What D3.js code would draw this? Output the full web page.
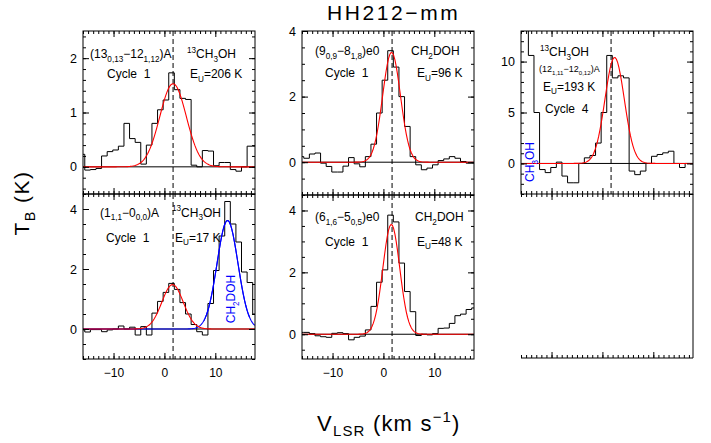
<!DOCTYPE html>
<html><head><meta charset="utf-8">
<script src="https://cdn.jsdelivr.net/npm/d3@7"></script>
<style>
body{margin:0;background:#fff}
svg{display:block}
text{font-family:"Liberation Sans",Arial,Helvetica,sans-serif;white-space:pre}
</style>
</head><body>
<svg id="c" width="711" height="443"></svg>
<script>
// ---------------- DATA ----------------
const velocity = [-16.2,-15.1,-14.0,-12.9,-11.8,-10.7,-9.6,-8.5,-7.4,-6.3,-5.2,-4.1,-3.0,-1.9,-0.8,0.3,1.4,2.5,3.6,4.7,5.8,6.9,8.0,9.1,10.2,11.3,12.4,13.5,14.6,15.7,16.8,17.9];
const channelWidth = 1.1;
const vsys = 1.7;
const tb1 = [0.23,-0.06,-0.05,-0.03,0.2,0.28,0.31,0.38,0.8,0.52,0.45,0.05,0.4,0.8,1.05,1.23,1.73,1.42,1.26,1.24,0.03,0.0,0.3,0.29,0.02,0.08,0.08,-0.05,-0.08,0.0,0.38,0.38];
const tb2 = [-0.03,-0.1,-0.02,-0.02,-0.09,-0.03,0.0,0.1,0.0,0.06,-0.2,0.08,-0.2,0.53,0.92,1.22,1.52,1.32,0.88,0.5,0.15,-0.09,-0.2,0.85,1.95,3.1,4.25,3.5,2.9,1.9,1.55,0.5];
const tb3 = [0.17,0.12,0.25,0.28,-0.03,-0.13,-0.3,-0.3,-0.12,0.14,-0.05,-0.14,0.17,0.55,1.5,2.5,3.4,2.9,2.0,1.09,0.17,-0.08,-0.23,-0.18,-0.08,0.05,0.1,0.17,0.12,0.02,-0.03,-0.03];
const tb4 = [0.06,0.06,0.02,-0.05,-0.08,-0.1,0.03,0.05,0.02,-0.18,-0.1,-0.06,0.14,0.9,1.68,2.08,3.85,3.63,2.3,1.38,0.73,-0.04,0.0,-0.02,0.02,0.19,0.2,0.35,0.6,0.65,0.8,0.85];
const tb5 = [14,14,10.6,5.0,-0.6,-0.9,-0.4,0.13,-1.24,-1.9,-1.9,0.0,0.55,0.78,2.0,5.0,10.6,8.4,8.6,8.4,-0.75,-1.1,-0.75,0.0,0.7,0.88,1.04,1.2,0.0,-0.4,0.0,0.0];
// Gaussian fit parameters [amplitude K, centre km/s, sigma km/s]
const fitRed1 = [1.53, 1.7, 2.6];
const fitRed2 = [1.48, 1.6, 2.1];
const fitBlue2 = [3.62, 12.4, 2.05];
const fitRed3 = [3.35, 1.6, 1.75];
const fitRed4 = [3.55, 1.55, 1.65];
const fitRed5 = [10.4, 2.4, 1.9];
const xTicks = [-10, 0, 10];
const yTicks1 = [0, 1, 2];
const yTicks2 = [0, 2, 4];
const yTicks3 = [0, 2, 4];
const yTicks4 = [0, 2, 4];
const yTicks5 = [0, 5, 10];
const title = "HH212\u2212mm";
const yTitle = "T_{B} (K)";
const xTitle = "V_{LSR} (km s^{\u22121})";

// ---------------- LAYOUT ----------------
const xDomain = [-16, 17.8];
const panels = [
  {x0:83, x1:255, y0:31, y1:194, yDom:[-0.5,2.5], tb:tb1, red:fitRed1, yt:yTicks1, ym:0.2, xlab:false,
   labels:[["(13_{0,13}\u221212_{1,12})A",90,58,12],["^{13}CH_{3}OH",187,58,12],["Cycle  1",107,78,12],["E_{U}=206 K",190,78,12]]},
  {x0:83, x1:255, y0:194, y1:359, yDom:[-1,4.5], tb:tb2, red:fitRed2, blue:fitBlue2, yt:yTicks2, ym:0.5, xlab:true,
   labels:[["(1_{1,1}\u22120_{0,0})A",100,216.5,12],["^{13}CH_{3}OH",172,216.5,12],["Cycle  1",106,241.5,12],["E_{U}=17 K",175,241.5,12]],
   vlabel:["CH_{2}DOH",235,299]},
  {x0:302, x1:474, y0:31, y1:195, yDom:[-1,4], tb:tb3, red:fitRed3, yt:yTicks3, ym:0.5, xlab:false,
   labels:[["(9_{0,9}\u22128_{1,8})e0",315,55,12],["CH_{2}DOH",411,55,12],["Cycle  1",325,77,12],["E_{U}=96 K",417,77,12]]},
  {x0:302, x1:474, y0:195, y1:359, yDom:[-0.8,4.5], tb:tb4, red:fitRed4, yt:yTicks4, ym:0.5, xlab:true,
   labels:[["(6_{1,6}\u22125_{0,5})e0",315,221,12],["CH_{2}DOH",415,221,12],["Cycle  1",325,245.5,12],["E_{U}=48 K",417,245.5,12]]},
  {x0:521, x1:693, y0:31, y1:194, yDom:[-3,13], tb:tb5, red:fitRed5, yt:yTicks5, ym:1, xlab:false,
   labels:[["^{13}CH_{3}OH",540,56,12],["(12_{1,11}\u221212_{0,12})A",539,72,9],["E_{U}=193 K",543,90.5,12],["Cycle  4",545,112.5,12]],
   vlabel:["CH_{3}OH",534,162]}
];

const svg = d3.select("#c");
svg.append("rect").attr("width",711).attr("height",443).attr("fill","#fff");

function rich(sel, str, fs, subK) {
  const sk = subK == null ? 0.3 : subK;
  const re = /([_^])\{([^}]*)\}|([^_^]+)/g;
  let m, shift = 0;
  while ((m = re.exec(str))) {
    if (m[1]) {
      const target = m[1] === "_" ? fs*sk : -fs*0.42;
      sel.append("tspan").attr("dy", target - shift).attr("font-size", fs*0.68).text(m[2]);
      shift = target;
    } else {
      sel.append("tspan").attr("dy", -shift).attr("font-size", fs).text(m[3]);
      shift = 0;
    }
  }
}
function gauss(p, v) { return p[0]*Math.exp(-((v-p[1])**2)/(2*p[2]*p[2])); }
const fitGrid = d3.range(xDomain[0], xDomain[1]+0.001, 0.25);

function styleAxis(g, fs) {
  g.select(".domain").remove();
  g.selectAll(".tick line").attr("stroke","#000").attr("stroke-width",1);
  g.selectAll(".tick text").attr("fill","#000").attr("font-size",fs)
    .attr("font-family","'Liberation Sans',Arial,sans-serif");
}

panels.forEach((p, i) => {
  const x = d3.scaleLinear().domain(xDomain).range([p.x0, p.x1]);
  const y = d3.scaleLinear().domain(p.yDom).range([p.y1, p.y0]);
  const g = svg.append("g");
  const cid = "clip" + i;
  g.append("clipPath").attr("id", cid).append("rect")
    .attr("x", p.x0).attr("y", p.y0).attr("width", p.x1-p.x0).attr("height", p.y1-p.y0);
  const inner = g.append("g").attr("clip-path", `url(#${cid})`);

  // zero line
  inner.append("line").attr("x1",p.x0).attr("x2",p.x1).attr("y1",y(0)).attr("y2",y(0))
    .attr("stroke","#000").attr("stroke-width",1);
  // histogram
  const pts = [];
  velocity.forEach((v, k) => { pts.push([v-channelWidth/2, p.tb[k]]); pts.push([v+channelWidth/2, p.tb[k]]); });
  const line = d3.line().x(d => x(d[0])).y(d => y(d[1]));
  inner.append("path").attr("d", line(pts)).attr("fill","none").attr("stroke","#000").attr("stroke-width",1);
  // systemic velocity
  inner.append("line").attr("x1",x(vsys)).attr("x2",x(vsys)).attr("y1",p.y0).attr("y2",p.y1)
    .attr("stroke","#000").attr("stroke-width",1).attr("stroke-dasharray","5,3");
  // fits
  if (p.blue) {
    inner.append("path").attr("d", line(fitGrid.map(v => [v, gauss(p.blue, v)])))
      .attr("fill","none").attr("stroke","#0000ff").attr("stroke-width",1.1);
  }
  inner.append("path").attr("d", line(fitGrid.map(v => [v, gauss(p.red, v)])))
    .attr("fill","none").attr("stroke","#ff0000").attr("stroke-width",1.1);
  if (p.blue) {
    inner.append("path").attr("d", line(fitGrid.filter(v => v > 7.5 && v < 17).map(v => [v, gauss(p.blue, v)])))
      .attr("fill","none").attr("stroke","#0000ff").attr("stroke-width",1.1);
  }

  // frame
  g.append("rect").attr("x",p.x0).attr("y",p.y0).attr("width",p.x1-p.x0).attr("height",p.y1-p.y0)
    .attr("fill","none").attr("stroke","#000").attr("stroke-width",1);

  // axes
  const xMinor = d3.range(-16, 18, 1);
  const yMinor = d3.range(Math.ceil(p.yDom[0]/p.ym)*p.ym, p.yDom[1]+1e-9, p.ym);
  g.append("g").attr("transform",`translate(0,${p.y1})`)
    .call(d3.axisBottom(x).tickValues(xMinor).tickSize(-3).tickFormat("")).call(a=>styleAxis(a,12));
  g.append("g").attr("transform",`translate(0,${p.y1})`)
    .call(d3.axisBottom(x).tickValues(xTicks).tickSize(-6).tickPadding(9)
      .tickFormat(p.xlab ? (d => d < 0 ? "\u2212" + Math.abs(d) : d) : ""))
    .call(a=>styleAxis(a,12));
  g.append("g").attr("transform",`translate(0,${p.y0})`)
    .call(d3.axisTop(x).tickValues(xMinor).tickSize(-3).tickFormat("")).call(a=>styleAxis(a,12));
  g.append("g").attr("transform",`translate(0,${p.y0})`)
    .call(d3.axisTop(x).tickValues(xTicks).tickSize(-6).tickFormat("")).call(a=>styleAxis(a,12));
  g.append("g").attr("transform",`translate(${p.x0},0)`)
    .call(d3.axisLeft(y).tickValues(yMinor).tickSize(-3).tickFormat("")).call(a=>styleAxis(a,12));
  g.append("g").attr("transform",`translate(${p.x0},0)`)
    .call(d3.axisLeft(y).tickValues(p.yt).tickSize(-6).tickPadding(6).tickFormat(d3.format("d")))
    .call(a=>styleAxis(a,12.5));
  g.append("g").attr("transform",`translate(${p.x1},0)`)
    .call(d3.axisRight(y).tickValues(yMinor).tickSize(-3).tickFormat("")).call(a=>styleAxis(a,12));
  g.append("g").attr("transform",`translate(${p.x1},0)`)
    .call(d3.axisRight(y).tickValues(p.yt).tickSize(-6).tickFormat("")).call(a=>styleAxis(a,12));

  // labels
  p.labels.forEach(l => {
    const t = g.append("text").attr("x", l[1]).attr("y", l[2]).attr("fill","#000");
    rich(t, l[0], l[3]);
  });
  if (p.vlabel) {
    const t = g.append("text").attr("transform",`translate(${p.vlabel[1]},${p.vlabel[2]}) rotate(-90)`)
      .attr("text-anchor","middle").attr("fill","#0000ff");
    rich(t, p.vlabel[0], 12);
  }
});

// empty bottom-right panel (only partial frame drawn)
(function(){
  const x = d3.scaleLinear().domain(xDomain).range([521, 693]);
  const g = svg.append("g");
  g.append("line").attr("x1",521).attr("x2",693).attr("y1",358).attr("y2",358).attr("stroke","#000");
  g.append("line").attr("x1",693).attr("x2",693).attr("y1",194).attr("y2",358).attr("stroke","#000");
  const xMinor = d3.range(-16, 18, 1);
  g.append("g").attr("transform","translate(0,358)")
    .call(d3.axisBottom(x).tickValues(xMinor).tickSize(-3).tickFormat("")).call(a=>styleAxis(a,12));
  g.append("g").attr("transform","translate(0,358)")
    .call(d3.axisBottom(x).tickValues(xTicks).tickSize(-6).tickFormat("")).call(a=>styleAxis(a,12));
  g.append("g").attr("transform","translate(0,194)")
    .call(d3.axisTop(x).tickValues(xMinor).tickSize(-3).tickFormat("")).call(a=>styleAxis(a,12));
  g.append("g").attr("transform","translate(0,194)")
    .call(d3.axisTop(x).tickValues(xTicks).tickSize(-6).tickFormat("")).call(a=>styleAxis(a,12));
})();

// titles
const tt = svg.append("text").attr("x",327).attr("y",20).attr("font-size",21)
  .attr("letter-spacing","2.6px").attr("fill","#000");
rich(tt, title, 21);
const yt = svg.append("text").attr("transform","translate(29,203) rotate(-90)")
  .attr("text-anchor","middle").attr("letter-spacing","1.5px").attr("fill","#000");
rich(yt, yTitle, 21);
const xt = svg.append("text").attr("x",317).attr("y",431).attr("letter-spacing","1.2px").attr("fill","#000");
rich(xt, xTitle, 22, 0.22);
</script>
</body></html>
